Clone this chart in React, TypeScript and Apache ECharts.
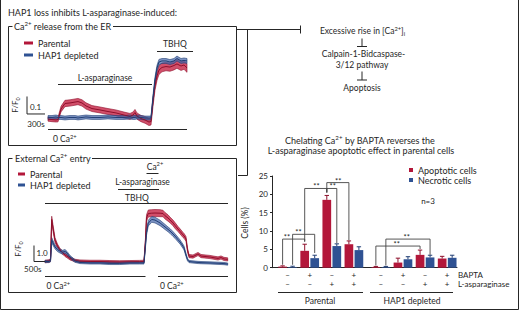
import { useEffect, useRef } from 'react';
import * as echarts from 'echarts';

const FONT = 'Lato, "Liberation Sans", sans-serif';
const INK = '#262626';
const RED = '#b3173a';
const RED_DARK = '#8e0f2b';
const BLUE = '#2f5293';
const BLUE_DARK = '#213e74';

// ---- Panel 1: Ca2+ release from the ER (time in s, F/F0) ----
const erTime = [0, 67, 133, 167, 217, 283, 367, 450, 500, 567, 633, 733, 867, 1000, 1133, 1267, 1367, 1417, 1450, 1483, 1550, 1617, 1683, 1717, 1750, 1783, 1817, 1850, 1900, 1967, 2033, 2100, 2150, 2217, 2267, 2317];
const erParental = [0.994, 0.991, 0.989, 0.991, 1.051, 1.083, 1.086, 1.091, 1.094, 1.086, 1.069, 1.054, 1.046, 1.037, 1.029, 1.017, 1.009, 1.017, 1.031, 1.011, 0.997, 0.989, 0.977, 0.98, 1.091, 1.183, 1.24, 1.274, 1.289, 1.294, 1.291, 1.3, 1.309, 1.297, 1.303, 1.286];
const erParentalErr = [0.012, 0.012, 0.012, 0.013, 0.016, 0.018, 0.018, 0.018, 0.018, 0.018, 0.018, 0.017, 0.017, 0.017, 0.017, 0.017, 0.017, 0.017, 0.018, 0.018, 0.018, 0.019, 0.02, 0.02, 0.024, 0.025, 0.025, 0.025, 0.025, 0.024, 0.024, 0.025, 0.025, 0.025, 0.025, 0.025];
const erHap1 = [1.003, 1.003, 1.006, 1.003, 1.003, 1.0, 1.003, 1.003, 1.0, 1.003, 1.006, 1.003, 1.003, 1.006, 1.003, 1.003, 1.006, 1.003, 1.003, 1.006, 1.003, 1.0, 1.0, 1.0, 1.114, 1.217, 1.286, 1.32, 1.326, 1.326, 1.32, 1.326, 1.34, 1.326, 1.329, 1.326];
const erHap1Err = [0.011, 0.011, 0.011, 0.011, 0.011, 0.011, 0.011, 0.011, 0.011, 0.011, 0.011, 0.011, 0.011, 0.011, 0.011, 0.011, 0.011, 0.011, 0.011, 0.011, 0.011, 0.011, 0.011, 0.011, 0.014, 0.015, 0.015, 0.015, 0.014, 0.014, 0.014, 0.014, 0.014, 0.014, 0.014, 0.014];
const erScaleBar = [-350, 1.023, 300, 0.1]; // t0, v0, 300 s, 0.1 F/F0

// ---- Panel 2: External Ca2+ entry ----
const entryTime = [0, 182, 250, 305, 364, 455, 568, 682, 800, 909, 1000, 1136, 1364, 1590, 2050, 2500, 2950, 3400, 3860, 4300, 4500, 4568, 4614, 4695, 4850, 5000, 5230, 5364, 5455, 5590, 5680, 5818, 5910, 6045, 6140, 6273, 6320, 6409, 6477, 6545, 6727, 6955, 7091, 7500, 7864, 8000, 8136, 8304];
const entryParental = [1.0, 1.03, 1.09, 3.63, 3.09, 2.34, 1.97, 1.72, 1.56, 1.41, 1.33, 1.2, 1.06, 1.02, 1.0, 1.0, 0.98, 0.97, 0.98, 0.99, 1.0, 2.34, 3.72, 4.0, 4.02, 4.03, 4.02, 4.0, 3.86, 3.72, 3.6, 3.41, 3.25, 3.03, 2.88, 2.66, 2.6, 2.41, 1.72, 1.34, 1.31, 1.47, 1.34, 1.28, 1.19, 1.25, 1.16, 1.13];
const entryParentalErr = [0.08, 0.08, 0.1, 0.2, 0.2, 0.15, 0.12, 0.1, 0.1, 0.1, 0.1, 0.1, 0.08, 0.08, 0.08, 0.08, 0.08, 0.08, 0.08, 0.08, 0.08, 0.15, 0.2, 0.22, 0.22, 0.22, 0.22, 0.2, 0.2, 0.2, 0.18, 0.18, 0.18, 0.16, 0.16, 0.16, 0.15, 0.15, 0.12, 0.1, 0.1, 0.1, 0.1, 0.1, 0.1, 0.1, 0.1, 0.1];
const entryHap1 = [1.0, 1.0, 1.06, 2.34, 2.16, 1.91, 1.74, 1.65, 1.58, 1.63, 1.53, 1.28, 1.03, 0.94, 0.91, 0.91, 0.88, 0.88, 0.91, 0.91, 0.91, 2.03, 2.8, 3.4, 3.63, 3.59, 3.41, 3.26, 3.16, 3.01, 2.91, 2.72, 2.59, 2.37, 2.22, 1.95, 1.84, 1.41, 1.12, 1.0, 0.97, 0.94, 0.93, 0.91, 0.89, 0.88, 0.87, 0.84];
const entryHap1Err = [0.07, 0.07, 0.08, 0.15, 0.15, 0.12, 0.12, 0.12, 0.12, 0.12, 0.1, 0.1, 0.08, 0.07, 0.07, 0.07, 0.07, 0.07, 0.07, 0.07, 0.07, 0.12, 0.16, 0.18, 0.18, 0.18, 0.17, 0.16, 0.16, 0.15, 0.15, 0.15, 0.14, 0.14, 0.13, 0.13, 0.12, 0.1, 0.08, 0.07, 0.07, 0.07, 0.07, 0.07, 0.07, 0.07, 0.07, 0.07];
const entryScaleBar = [-500, 1.0, 500, 1.0]; // t0, v0, 500 s, 1.0 F/F0

// ---- Bar chart: BAPTA / L-asparaginase ----
const groupPos = [0, 1, 2, 3, 4.22, 5.22, 6.22, 7.22];
const baptaRow = ['–', '+', '–', '+', '–', '+', '–', '+'];
const laspRow = ['–', '–', '+', '+', '–', '–', '+', '+'];
const apoptotic = [0.3, 4.6, 18.5, 6.4, 0.2, 1.4, 3.5, 2.5];
const apoptoticErr = [0.2, 1.8, 1.2, 0.9, 0.15, 1.2, 1.3, 0.6];
const necrotic = [0.2, 2.6, 5.9, 4.8, 0.2, 2.3, 2.8, 2.7];
const necroticErr = [0.2, 0.8, 0.6, 0.9, 0.15, 0.7, 0.6, 0.7];
const yTicks = [0, 25, 5];
// significance brackets: [group1, side1(-1 red / 1 blue), group2, side2, top, leg1 bottom, leg2 bottom, label x]
const brackets = [
  [0, -1, 1, -1, 7.8, 0.8, 7.0, -0.03],
  [0, 1, 1, 1, 9.1, 0.8, 4.0, 0.49],
  [1, -1, 2, -1, 21.6, 7.3, 20.5, 1.31],
  [2, -1, 3, -1, 23.2, 20.5, 7.5, 2.29],
  [2, -1, 2, 1, 21.6, 20.5, 6.7, 2.04],
  [4, -1, 6, -1, 5.9, 0.6, 5.1, 4.94],
  [4, 1, 6, 1, 7.8, 0.6, 3.5, 5.39],
];

const BAR_W = 8.7;
const BAR_OFF = 5.0;

const rich = (size: number) => ({
  sup: { fontSize: size * 0.68, fontFamily: FONT, fill: INK, color: INK, verticalAlign: 'top', lineHeight: size * 0.75 },
  sub: { fontSize: size * 0.68, fontFamily: FONT, fill: INK, color: INK, verticalAlign: 'bottom', lineHeight: size * 0.55 },
});

const T = (x: number, y: number, text: string, size = 9, align = 'left', extra: any = {}) => ({
  type: 'text', x, y, silent: true, ...extra,
  style: { text, fontSize: size, fontFamily: FONT, fill: INK, align, verticalAlign: 'middle', lineHeight: size + 3, rich: rich(size) },
});
const L = (x1: number, y1: number, x2: number, y2: number, w = 1) => ({
  type: 'line', silent: true, shape: { x1, y1, x2, y2 }, style: { stroke: INK, lineWidth: w },
});
const PL = (points: number[][], w = 1) => ({
  type: 'polyline', silent: true, shape: { points }, style: { stroke: INK, lineWidth: w, fill: 'none' },
});

function bandSeries(time: number[], vals: number[], errs: number[], axis: number, fill: string, edge: string) {
  return {
    type: 'custom', xAxisIndex: axis, yAxisIndex: axis, silent: true, z: 1,
    data: time.map((t, i) => [t, vals[i] - errs[i], vals[i] + errs[i]]),
    renderItem: (params: any, api: any) => {
      if (params.dataIndex !== 0) return null;
      const up = time.map((t, i) => api.coord([t, vals[i] + errs[i]]));
      const lo = time.map((t, i) => api.coord([t, vals[i] - errs[i]])).reverse();
      return { type: 'polygon', shape: { points: up.concat(lo) }, style: { fill, stroke: edge, lineWidth: 0.6 } };
    },
  };
}

function lineSeries(name: string, time: number[], vals: number[], axis: number, color: string) {
  return {
    type: 'line', name, xAxisIndex: axis, yAxisIndex: axis, z: 3, symbol: 'none', showSymbol: false,
    data: time.map((t, i) => [t, vals[i]]),
    lineStyle: { color, width: 1 }, itemStyle: { color },
  };
}

function scaleBarSeries(bar: number[], axis: number) {
  return {
    type: 'custom', xAxisIndex: axis, yAxisIndex: axis, silent: true, clip: false,
    data: [bar],
    renderItem: (params: any, api: any) => {
      const t0 = api.value(0), v0 = api.value(1), dt = api.value(2), dv = api.value(3);
      const o = api.coord([t0, v0]);
      const top = api.coord([t0, v0 + dv]);
      const right = api.coord([t0 + dt, v0]);
      return { type: 'polyline', shape: { points: [top, o, right] }, style: { stroke: INK, lineWidth: 1, fill: 'none' } };
    },
  };
}

function errSeries(vals: number[], errs: number[], sign: number, color: string) {
  return {
    type: 'custom', xAxisIndex: 2, yAxisIndex: 2, silent: true, z: 4,
    data: vals.map((v, i) => [groupPos[i], v, errs[i]]),
    renderItem: (params: any, api: any) => {
      const x = api.coord([api.value(0), 0])[0] + sign * BAR_OFF;
      const y0 = api.coord([0, api.value(1)])[1];
      const y1 = api.coord([0, api.value(1) + api.value(2)])[1];
      return {
        type: 'group', children: [
          { type: 'line', shape: { x1: x, y1: y0, x2: x, y2: y1 }, style: { stroke: color, lineWidth: 1 } },
          { type: 'line', shape: { x1: x - 2.2, y1: y1, x2: x + 2.2, y2: y1 }, style: { stroke: color, lineWidth: 1 } },
        ],
      };
    },
  };
}

const bracketSeries = {
  type: 'custom', xAxisIndex: 2, yAxisIndex: 2, silent: true, z: 5,
  data: brackets,
  renderItem: (params: any, api: any) => {
    const g1 = groupPos[api.value(0)], s1 = api.value(1), g2 = groupPos[api.value(2)], s2 = api.value(3);
    const top = api.value(4), b1 = api.value(5), b2 = api.value(6), lx = api.value(7);
    const xa = api.coord([g1, 0])[0] + s1 * BAR_OFF;
    const xb = api.coord([g2, 0])[0] + s2 * BAR_OFF;
    const yt = api.coord([0, top])[1];
    const y1 = api.coord([0, b1])[1];
    const y2 = api.coord([0, b2])[1];
    const lxp = api.coord([lx, 0])[0];
    return {
      type: 'group', children: [
        { type: 'polyline', shape: { points: [[xa, y1], [xa, yt], [xb, yt], [xb, y2]] }, style: { stroke: '#444', lineWidth: 0.9, fill: 'none' } },
        { type: 'text', x: lxp, y: yt + 2.5, style: { text: '**', fontSize: 7.5, fontFamily: FONT, fill: INK, align: 'center', verticalAlign: 'bottom' } },
      ],
    };
  },
};

export default function App() {
  const ref = useRef<HTMLDivElement>(null);
  useEffect(() => {
    if (!ref.current) return;
    const chart = echarts.init(ref.current, undefined, { renderer: 'svg' });
    const legendText = { fontSize: 9, fontFamily: FONT, color: INK, lineHeight: 10 };
    const option: any = {
      animation: false,
      backgroundColor: '#fff',
      textStyle: { fontFamily: FONT },
      grid: [
        { left: 48, top: 55, width: 139, height: 75.25 },
        { left: 45, top: 205, width: 182.7, height: 65 },
        { left: 272, top: 176, width: 185, height: 91.7 },
      ],
      xAxis: [
        { gridIndex: 0, type: 'value', min: 0, max: 2317, show: false },
        { gridIndex: 1, type: 'value', min: 0, max: 8304, show: false },
        {
          gridIndex: 2, type: 'value', min: -0.706, max: 7.665,
          axisLine: { show: true, onZero: false, lineStyle: { color: INK, width: 1 } },
          axisTick: { show: false }, splitLine: { show: false },
          axisLabel: {
            customValues: groupPos, fontSize: 8, lineHeight: 9, margin: 3, color: INK, fontFamily: FONT,
            formatter: (v: number) => {
              const i = groupPos.findIndex((p) => Math.abs(p - v) < 1e-6);
              return i < 0 ? '' : baptaRow[i] + '\n' + laspRow[i];
            },
          },
        },
      ],
      yAxis: [
        { gridIndex: 0, type: 'value', min: 0.93, max: 1.36, show: false },
        { gridIndex: 1, type: 'value', min: 0.46875, max: 4.53125, show: false },
        {
          gridIndex: 2, type: 'value', min: yTicks[0], max: yTicks[1], interval: yTicks[2],
          axisLine: { show: true, onZero: false, lineStyle: { color: INK, width: 1 } },
          axisTick: { show: true, length: 2, lineStyle: { color: INK } },
          splitLine: { show: false },
          axisLabel: { fontSize: 8, margin: 4, color: INK, fontFamily: FONT },
        },
      ],
      legend: [
        {
          left: 24, top: 38, orient: 'vertical', padding: 0, icon: 'rect', itemWidth: 9, itemHeight: 3, itemGap: 2,
          selectedMode: false, textStyle: legendText,
          data: [{ name: 'Parental', itemStyle: { color: RED } }, { name: 'HAP1 depleted', itemStyle: { color: BLUE } }],
        },
        {
          left: 18, top: 169, orient: 'vertical', padding: 0, icon: 'rect', itemWidth: 7, itemHeight: 3, itemGap: 1,
          selectedMode: false, textStyle: legendText,
          data: [{ name: 'Parental', itemStyle: { color: RED } }, { name: 'HAP1 depleted', itemStyle: { color: BLUE } }],
        },
        {
          left: 409, top: 165.5, orient: 'vertical', padding: 0, icon: 'rect', itemWidth: 4, itemHeight: 4, itemGap: 1,
          selectedMode: false, textStyle: { ...legendText, lineHeight: 9 },
          data: [{ name: 'Apoptotic cells', itemStyle: { color: RED } }, { name: 'Necrotic cells', itemStyle: { color: BLUE } }],
        },
      ],
      series: [
        bandSeries(erTime, erParental, erParentalErr, 0, 'rgba(196,30,64,0.78)', RED_DARK),
        bandSeries(erTime, erHap1, erHap1Err, 0, 'rgba(72,104,170,0.72)', BLUE_DARK),
        lineSeries('Parental', erTime, erParental, 0, RED_DARK),
        lineSeries('HAP1 depleted', erTime, erHap1, 0, BLUE_DARK),
        scaleBarSeries(erScaleBar, 0),
        bandSeries(entryTime, entryParental, entryParentalErr, 1, 'rgba(196,30,64,0.78)', RED_DARK),
        bandSeries(entryTime, entryHap1, entryHap1Err, 1, 'rgba(72,104,170,0.72)', BLUE_DARK),
        lineSeries('Parental', entryTime, entryParental, 1, RED_DARK),
        lineSeries('HAP1 depleted', entryTime, entryHap1, 1, BLUE_DARK),
        scaleBarSeries(entryScaleBar, 1),
        {
          type: 'bar', name: 'Apoptotic cells', xAxisIndex: 2, yAxisIndex: 2, barWidth: BAR_W, barGap: '15%',
          data: apoptotic.map((v, i) => [groupPos[i], v]), itemStyle: { color: RED },
        },
        {
          type: 'bar', name: 'Necrotic cells', xAxisIndex: 2, yAxisIndex: 2, barWidth: BAR_W, barGap: '15%',
          data: necrotic.map((v, i) => [groupPos[i], v]), itemStyle: { color: BLUE },
        },
        errSeries(apoptotic, apoptoticErr, -1, RED_DARK),
        errSeries(necrotic, necroticErr, 1, BLUE_DARK),
        bracketSeries,
      ],
      graphic: [
        // outer frame
        L(0.5, 0, 0.5, 309.5), L(0.5, 309.5, 518.5, 309.5), L(518.5, 0, 518.5, 309.5),
        T(8, 12.5, 'HAP1 loss inhibits L-asparaginase-induced:', 9),
        // panel 1
        PL([[12.5, 26.5], [8.5, 26.5], [8.5, 145.5], [236.5, 145.5], [236.5, 26.5], [113, 26.5]]),
        T(14, 26.5, 'Ca{sup|2+} release from the ER', 9),
        T(175, 43.5, 'TBHQ', 8.5, 'center'), L(157, 51.5, 193, 51.5),
        T(105, 78, 'L-asparaginase', 8.5, 'center'), L(58, 84.5, 152, 84.5),
        L(48, 129.5, 187, 129.5), T(53, 139, '0 Ca{sup|2+}', 8.5),
        T(30, 106.5, '0.1', 8), T(36, 124, '300s', 8, 'center'),
        T(15, 105, 'F/F{sub|0}', 8, 'center', { rotation: Math.PI / 2 }),
        // panel 2
        PL([[12.5, 158.5], [8.5, 158.5], [8.5, 292.5], [236.5, 292.5], [236.5, 158.5], [92, 158.5]]),
        T(15, 158.5, 'External Ca{sup|2+} entry', 9),
        T(155, 166.5, 'Ca{sup|2+}', 8.5, 'center'), L(146.5, 173.5, 158.5, 173.5),
        T(142.5, 182, 'L-asparaginase', 8.5, 'center'), L(118, 189.5, 159, 189.5),
        T(137, 197.5, 'TBHQ', 8.5, 'center'), L(45, 203.5, 228, 203.5),
        L(45, 276.5, 145.5, 276.5), L(158, 276.5, 228, 276.5),
        T(46.5, 286, '0 Ca{sup|2+}', 8.5), T(160, 286, '0 Ca{sup|2+}', 8.5),
        T(36.5, 252.5, '1.0', 8), T(41.5, 268.5, '500s', 8, 'right'),
        T(18, 249, 'F/F{sub|0}', 8, 'center', { rotation: Math.PI / 2 }),
        // connector / pathway
        L(237, 29.5, 300, 29.5), L(300.5, 25.5, 300.5, 33.5),
        L(247.5, 29.5, 247.5, 175.5), L(238, 175.5, 247.5, 175.5),
        T(362.5, 31, 'Excessive rise in [Ca{sup|2+}]{sub|i}', 8.5, 'center'),
        L(362, 38.5, 362, 46.5), L(357, 46.5, 367, 46.5),
        T(363.5, 54, 'Calpain-1-Bidcaspase-', 8.5, 'center'),
        T(362, 64.5, '3/12 pathway', 8.5, 'center'),
        L(362, 71.5, 362, 80), L(357, 80, 367, 80),
        T(362, 88, 'Apoptosis', 8.5, 'center'),
        // bar panel texts
        T(360, 140, 'Chelating Ca{sup|2+} by BAPTA reverses the', 9, 'center'),
        T(361, 150.5, 'L-asparaginase apoptotic effect in parental cells', 9, 'center'),
        T(428, 201, 'n=3', 8, 'center'),
        T(244.5, 223, 'Cells (%)', 8.5, 'center', { rotation: Math.PI / 2 }),
        T(458, 275, 'BAPTA', 8), T(458, 284, 'L-asparaginase', 8),
        L(278, 292.5, 363, 292.5), L(370, 292.5, 453, 292.5),
        T(320, 300.5, 'Parental', 8.5, 'center'), T(412, 300.5, 'HAP1 depleted', 8.5, 'center'),
      ],
    };
    chart.setOption(option);
    return () => chart.dispose();
  }, []);
  return <div ref={ref} style={{ position: 'absolute', left: 0, top: 0, width: 520, height: 312, background: '#fff' }} />;
}
